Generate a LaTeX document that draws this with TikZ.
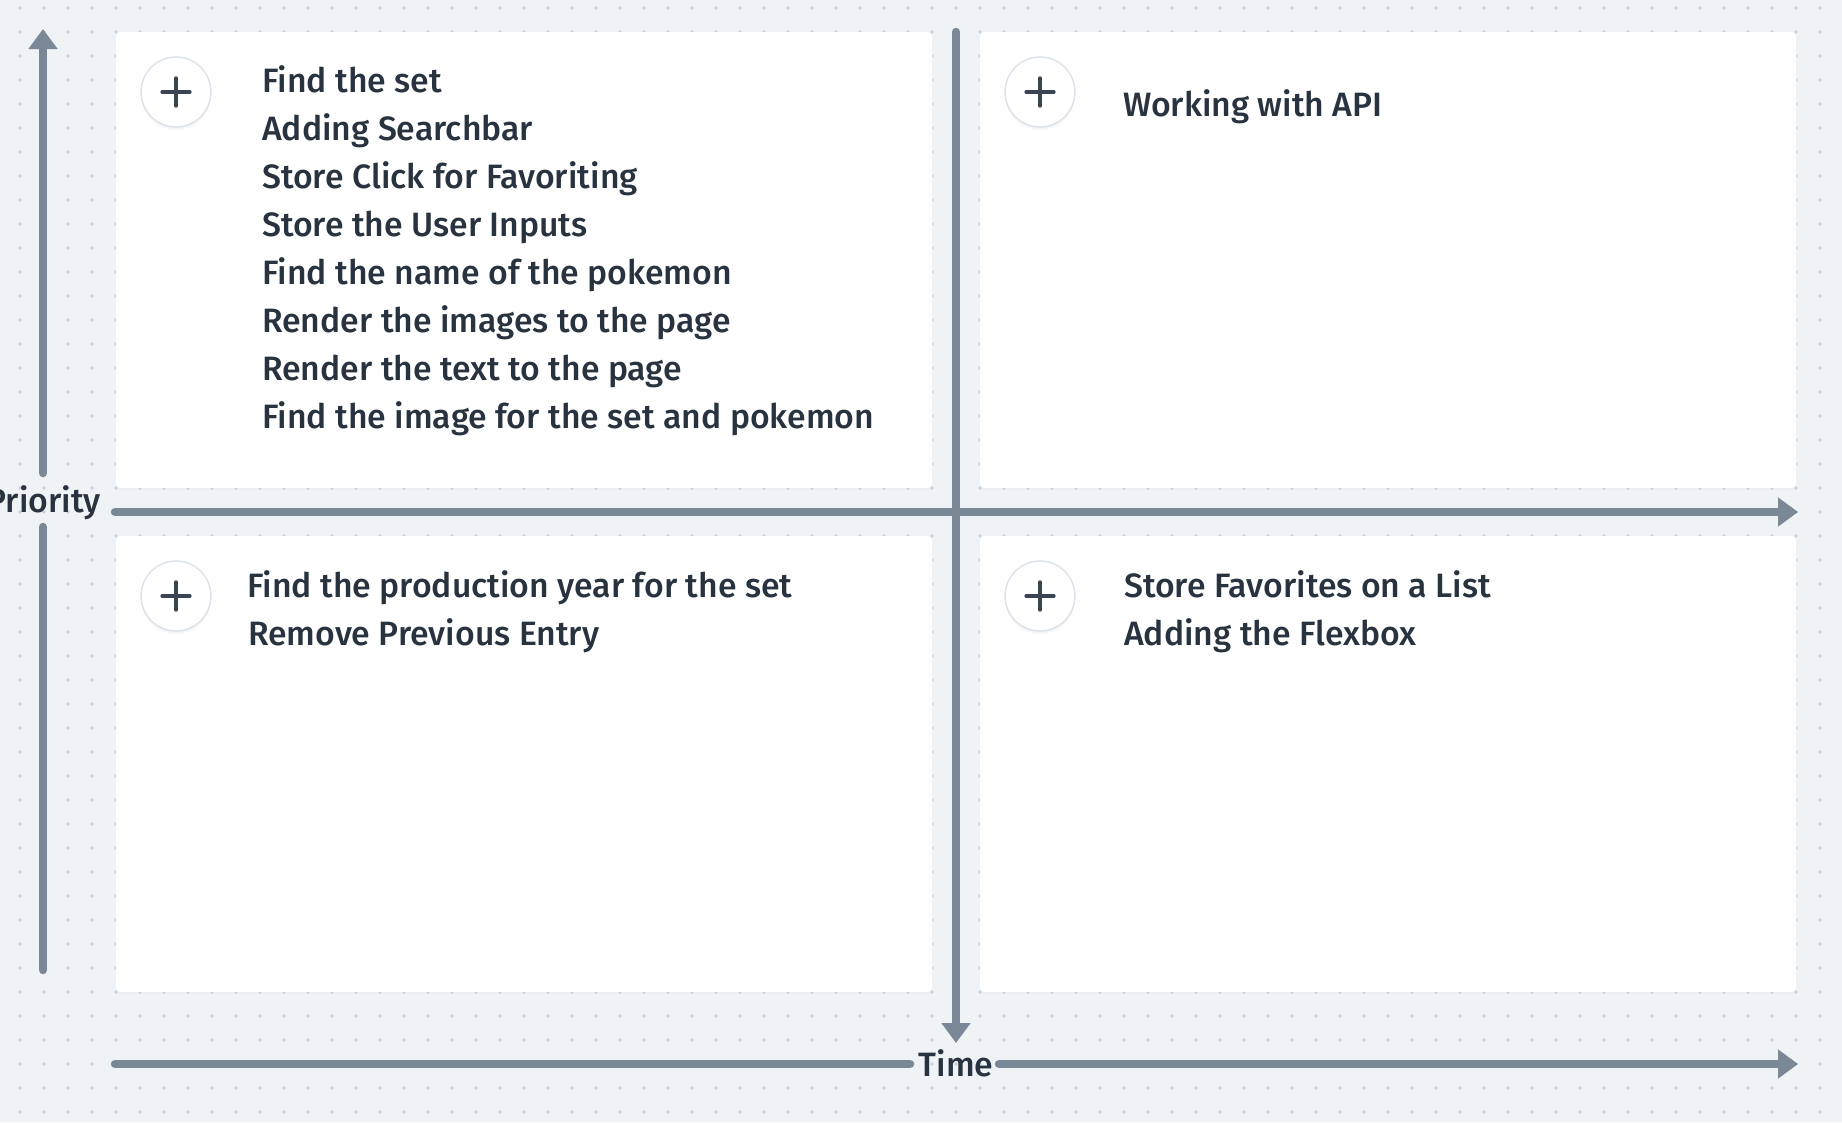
\documentclass[tikz,border=0pt]{standalone}
\usepackage{fontspec}
\setmainfont{Fira Sans}[UprightFont={* Medium}]
\usetikzlibrary{arrows.meta,shadows}
\definecolor{bgc}{HTML}{EFF3F6}
\definecolor{dotc}{HTML}{C9D1DA}
\definecolor{axisc}{HTML}{7A8796}
\definecolor{txtc}{HTML}{29323F}
\definecolor{ringc}{HTML}{DDE3EA}
\definecolor{plusc}{HTML}{3A4452}
\newlength\refwd
\begin{document}
\settowidth\refwd{\fontsize{10pt}{12pt}\selectfont Find the image for the set and pokemon}%
\pgfmathsetmacro\fsz{10*612/\refwd}%
\begin{tikzpicture}[x=1pt,y=-1pt]
\tikzset{
  item/.style={font=\fontsize{\fsz pt}{\fsz pt}\selectfont, text=txtc, inner sep=0pt, anchor=base west},
  axlabel/.style={font=\fontsize{\fsz pt}{\fsz pt}\selectfont, text=txtc, inner sep=0pt},
  quad/.style={rectangle, rounded corners=4pt, fill=white, minimum width=816pt, minimum height=456pt, inner sep=0pt,
    drop shadow={opacity=0.035, shadow xshift=0pt, shadow yshift=-2pt}},
  plusbtn/.style={circle, minimum size=70pt, inner sep=0pt, fill=white, draw=ringc, line width=1.5pt,
    drop shadow={opacity=0.06, shadow xshift=0pt, shadow yshift=-3pt}},
  plusline/.style={draw=plusc, line width=3.2pt, line cap=round},
  axis/.style={draw=axisc, line width=8.5pt, line cap=round},
  tipped/.style={-{Triangle[width=28pt,length=20pt]}}
}
% background and bounding box
\fill[bgc] (0,0) rectangle (1842,1122);
\useasboundingbox (0,0) rectangle (1842,1122);
\foreach \i in {0,...,76} {
  \foreach \j in {0,...,46} {
    \fill[dotc] ({20+24*\i},{8+24*\j}) circle (1.9);
  }
}
% quadrant boxes
\node[quad] (qtl) at (524,260) {};
\node[quad] (qtr) at (1388,260) {};
\node[quad] (qbl) at (524,764) {};
\node[quad] (qbr) at (1388,764) {};
% plus buttons
\foreach \n/\px/\py in {ptl/176/92, ptr/1040/92, pbl/176/596, pbr/1040/596} {
  \node[plusbtn] (\n) at (\px,\py) {};
  \draw[plusline] ([xshift=-14pt]\n.center) -- ([xshift=14pt]\n.center);
  \draw[plusline] ([yshift=-14pt]\n.center) -- ([yshift=14pt]\n.center);
}
% texts
\foreach \t [count=\k] in {Find the set, Adding Searchbar, Store Click for Favoriting, Store the User Inputs,
  Find the name of the pokemon, Render the images to the page, Render the text to the page,
  Find the image for the set and pokemon} {
  \node[item] (tl\k) at (262,{92+48*(\k-1)}) {\t};
}
\node[item] (tr1) at (1123,116) {Working with API};
\node[item] (bl1) at (247,597) {Find the production year for the set};
\node[item] (bl2) at (248,645) {Remove Previous Entry};
\node[item] (br1) at (1124,597) {Store Favorites on a List};
\node[item] (br2) at (1124,645) {Adding the Flexbox};
% axes
\coordinate (pTop) at (43,29);
\coordinate (pUpEnd) at (43,473);
\coordinate (pLowStart) at (43,527);
\coordinate (pLowEnd) at (43,970);
\node[axlabel, anchor=base east] (prio) at (101,512) {Priority};
\draw[axis,tipped] (pUpEnd) -- (pTop);
\draw[axis] (pLowStart) -- (pLowEnd);
\coordinate (hStart) at (115,512);
\coordinate (hEnd) at (1798,512);
\draw[axis,tipped] (hStart) -- (hEnd);
\coordinate (vStart) at (956,32);
\coordinate (vEnd) at (956,1043);
\draw[axis,tipped] (vStart) -- (vEnd);
\node[axlabel, anchor=base] (time) at (956,1076) {Time};
\coordinate (tStart) at (115,1064);
\coordinate (tMidL) at (910,1064);
\coordinate (tMidR) at (999,1064);
\coordinate (tEnd) at (1798,1064);
\draw[axis] (tStart) -- (tMidL);
\draw[axis,tipped] (tMidR) -- (tEnd);
\end{tikzpicture}
\end{document}
